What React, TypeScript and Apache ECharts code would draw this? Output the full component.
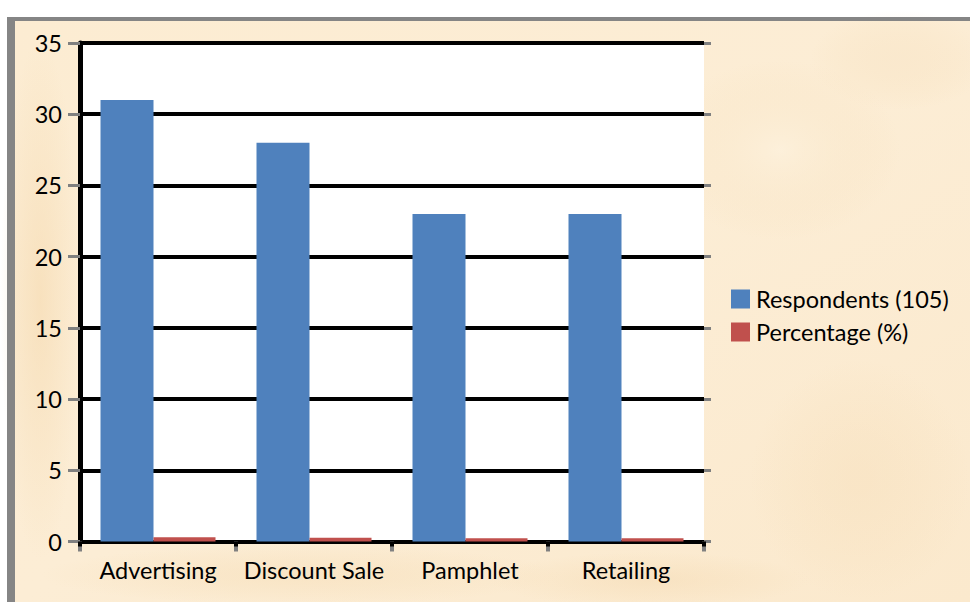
import React, { useEffect, useRef } from "react";
import * as echarts from "echarts";

const categories = ["Advertising", "Discount Sale", "Pamphlet", "Retailing"];
const respondents = [31, 28, 23, 23];
const percentage = [0.3, 0.27, 0.22, 0.22];
const seriesNames = ["Respondents (105)", "Percentage (%)"];
const yMin = 0;
const yMax = 35;
const yInterval = 5;

const FONT = "Lato, 'Open Sans', sans-serif";
const FS = 23.5;

function blotch(cx: number, cy: number, rx: number, ry: number, color: string, op: number) {
  return {
    type: "ellipse",
    z: -90,
    silent: true,
    shape: { cx, cy, rx, ry },
    style: {
      fill: new echarts.graphic.RadialGradient(0.5, 0.5, 0.5, [
        { offset: 0, color },
        { offset: 1, color: "rgba(245,220,180,0)" },
      ]),
      opacity: op,
    },
  };
}

export default function App() {
  const ref = useRef<HTMLDivElement>(null);
  useEffect(() => {
    document.body.style.margin = "0";
    document.body.style.overflow = "hidden";
    const chart = echarts.init(ref.current!, null, { renderer: "svg" });
    chart.setOption({
      animation: false,
      backgroundColor: "#ffffff",
      graphic: [
        {
          type: "rect",
          z: -100,
          silent: true,
          shape: { x: 15, y: 21, width: 955, height: 581 },
          style: {
            fill: new echarts.graphic.LinearGradient(0, 0, 1, 1, [
              { offset: 0, color: "#fcecd2" },
              { offset: 0.5, color: "#fcedd5" },
              { offset: 1, color: "#fbe9cd" },
            ]),
          },
        },
        blotch(40, 300, 40, 260, "#f6dcb4", 0.7),
        blotch(300, 575, 260, 30, "#f7e0bc", 0.6),
        blotch(650, 580, 160, 28, "#f6ddb8", 0.6),
        blotch(860, 480, 110, 120, "#f7e0bd", 0.5),
        blotch(780, 150, 120, 90, "#fdf2de", 0.6),
        blotch(900, 60, 90, 50, "#f8e4c6", 0.5),
        {
          type: "rect",
          z: -50,
          silent: true,
          shape: { x: 7, y: 17, width: 963, height: 4 },
          style: { fill: "#858585" },
        },
        {
          type: "rect",
          z: -50,
          silent: true,
          shape: { x: 7, y: 17, width: 8, height: 585 },
          style: { fill: "#858585" },
        },
      ],
      grid: {
        left: 80,
        right: 266,
        top: 43,
        bottom: 60.5,
        show: true,
        backgroundColor: "#ffffff",
        borderWidth: 0,
      },
      legend: {
        orient: "vertical",
        left: 731,
        top: 287,
        padding: 0,
        itemWidth: 19,
        itemHeight: 19,
        itemGap: 9,
        icon: "rect",
        data: seriesNames,
        textStyle: { color: "#000", fontSize: FS, fontFamily: FONT, padding: [0, 0, 0, 1] },
      },
      xAxis: [
        {
          type: "category",
          data: categories,
          position: "bottom",
          axisLine: { show: true, lineStyle: { color: "#000", width: 4 } },
          axisTick: { show: true, length: 10, lineStyle: { color: "#808080", width: 4 } },
          axisLabel: { color: "#000", fontSize: FS, fontFamily: FONT, margin: 16, interval: 0 },
          splitLine: { show: false },
        },
        {
          type: "category",
          data: categories,
          position: "bottom",
          z: 3,
          axisLine: { show: false },
          axisTick: { show: true, length: 5, lineStyle: { color: "#000", width: 4 } },
          axisLabel: { show: false },
          splitLine: { show: false },
        },
      ],
      yAxis: [
        {
          type: "value",
          min: yMin,
          max: yMax,
          interval: yInterval,
          position: "left",
          axisLine: { show: true, lineStyle: { color: "#000", width: 5 } },
          axisTick: { show: true, length: 12, lineStyle: { color: "#808080", width: 3 } },
          axisLabel: { color: "#000", fontSize: FS, fontFamily: FONT, margin: 18 },
          splitLine: { show: true, lineStyle: { color: "#000", width: 4 } },
        },
        {
          type: "value",
          min: yMin,
          max: yMax,
          interval: yInterval,
          position: "right",
          axisLine: { show: false },
          axisTick: { show: true, length: 7, lineStyle: { color: "#808080", width: 3 } },
          axisLabel: { show: false },
          splitLine: { show: false },
        },
      ],
      series: [
        {
          name: seriesNames[0],
          type: "bar",
          data: respondents,
          barWidth: 53,
          barGap: "0%",
          itemStyle: { color: "#4f81bd" },
        },
        {
          name: seriesNames[1],
          type: "bar",
          data: percentage,
          barWidth: 62,
          barGap: "0%",
          itemStyle: { color: "#c0504d" },
        },
      ],
    });
    return () => chart.dispose();
  }, []);
  return <div ref={ref} style={{ width: 970, height: 602 }} />;
}
